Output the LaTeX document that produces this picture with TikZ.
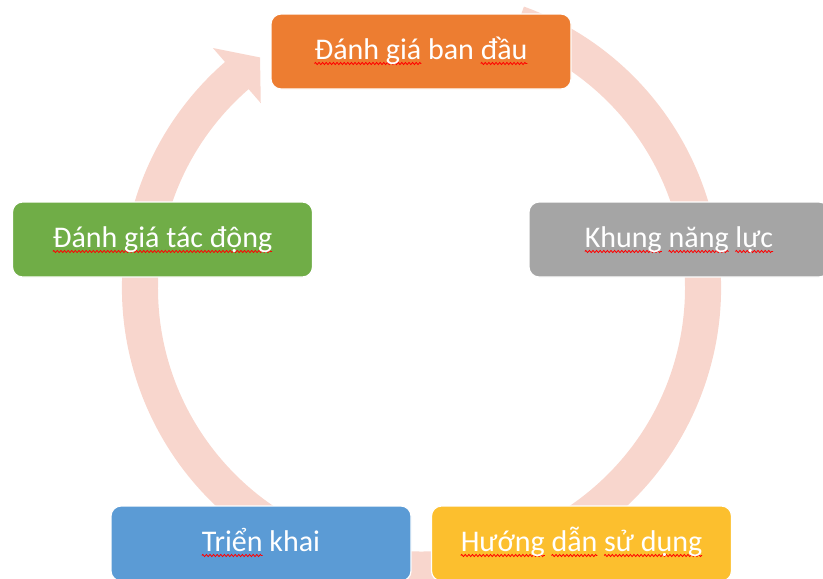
\documentclass[tikz,border=0pt]{standalone}
\usepackage{fontspec}
\setmainfont{Carlito}
\usetikzlibrary{decorations.pathmorphing}
\definecolor{ringc}{HTML}{F8D6CD}
\definecolor{orangec}{HTML}{ED7D31}
\definecolor{greenc}{HTML}{70AD47}
\definecolor{grayc}{HTML}{A5A5A5}
\definecolor{bluec}{HTML}{5B9BD5}
\definecolor{yellowc}{HTML}{FCBF2E}
\newdimen\sqwd
\newcommand\sq[1]{\setbox0=\hbox{#1}\sqwd=\wd0\relax\rlap{\tikz[overlay,baseline=0pt]\draw[sharp corners,red,line width=0.8pt,decorate,decoration={zigzag,amplitude=1.1pt,segment length=3.6pt}] (0pt,-4.5pt) -- (\sqwd,-4.5pt);}\box0\relax}
\begin{document}
\begin{tikzpicture}[x=1pt,y=1pt,
  box/.style={rounded corners=10pt, minimum width=300pt, minimum height=75pt,
    draw=white, line width=1.2pt, text=white, inner sep=0pt,
    font=\fontsize{30}{36}\selectfont, text height=22.5pt, text depth=7.5pt}]
\useasboundingbox (0,0) rectangle (823,-579);
\clip (0,0) rectangle (823,-579);
% cycle arrow
\fill[ringc, shift={(421.5,-288)}] (70:299.5)
  arc[start angle=70, end angle=-229, radius=299.5]
  -- (131:318) -- (125:281.5) -- (131:245) -- (131:263.5)
  arc[start angle=-229, end angle=70, radius=263.5] -- cycle;
% boxes
\node[box, fill=orangec] (n1) at (421,-51.5) {\sq{Đánh giá} ban \sq{đầu}};
\node[box, fill=grayc] (n2) at (679,-239.5) {\sq{Khung} \sq{năng} \sq{lực}};
\node[box, fill=yellowc] (n3) at (581.5,-543.5) {\sq{Hướng} \sq{dẫn} \sq{sử dụng}};
\node[box, fill=bluec] (n4) at (261,-543.5) {\sq{Triển} khai};
\node[box, fill=greenc] (n5) at (162.5,-239.5) {\sq{Đánh giá tác động}};
\end{tikzpicture}
\end{document}
